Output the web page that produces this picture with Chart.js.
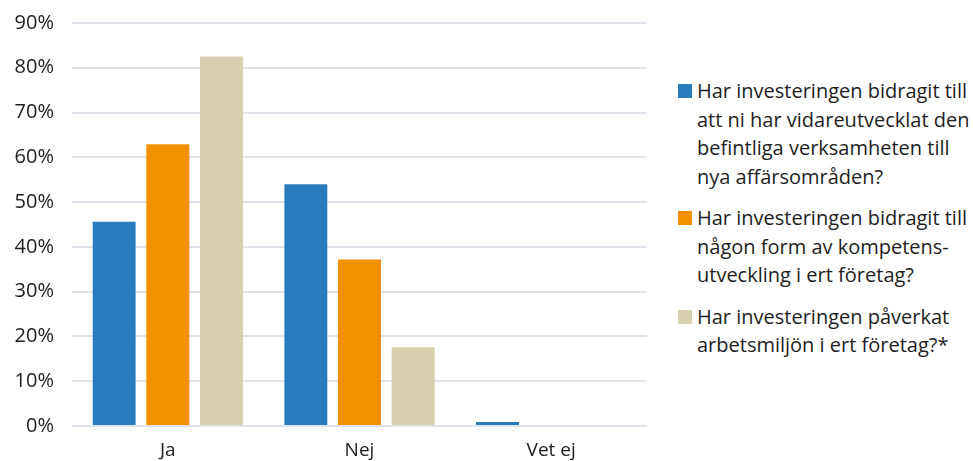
<!DOCTYPE html>
<html lang="sv">
<head>
<meta charset="UTF-8">
<title>Investeringens effekter</title>
<script src="https://cdn.jsdelivr.net/npm/chart.js@4.4.1/dist/chart.umd.min.js"></script>
<style>
    body {
        margin: 0;
        background: #fff;
        font-family: "Open Sans", sans-serif;
    }
    .wrap {
        position: relative;
        width: 973px;
        height: 461px;
    }
    .chart-box {
        position: absolute;
        left: 0;
        top: 0;
        width: 660px;
        height: 461px;
    }
    #legend {
        position: absolute;
        left: 678px;
        top: 77px;
        width: 295px;
        font-size: 20px;
        line-height: 28.5px;
        color: #1e1e1e;
        white-space: nowrap;
    }
    .item {
        position: relative;
        padding-left: 19px;
        margin-bottom: 13px;
    }
    .swatch {
        position: absolute;
        left: 0;
        top: 7px;
        width: 14px;
        height: 14px;
    }
</style>
</head>
<body>
<div class="wrap">
    <div class="chart-box"><canvas id="chart"></canvas></div>
    <div id="legend"></div>
</div>

<script>
    // answer categories
    const categories = ['Ja', 'Nej', 'Vet ej'];

    // share of respondents (%) per question
    const utvecklatVerksamhet = [45.6, 54.0, 0.9];
    const kompetensutveckling = [62.9, 37.2, 0];
    const arbetsmiljo = [82.5, 17.6, 0];

    const yTicks = [0, 10, 20, 30, 40, 50, 60, 70, 80, 90];

    // legend text, one entry per line
    const seriesLabels = [
        ['Har investeringen bidragit till', 'att ni har vidareutvecklat den', 'befintliga verksamheten till', 'nya affärsområden?'],
        ['Har investeringen bidragit till', 'någon form av kompetens-', 'utveckling i ert företag?'],
        ['Har investeringen påverkat', 'arbetsmiljön i ert företag?*']
    ];
    const seriesColors = ['#287cbd', '#f29000', '#d6cfb0'];
    const seriesData = [utvecklatVerksamhet, kompetensutveckling, arbetsmiljo];

    const datasets = seriesData.map((d, i) => ({
        label: seriesLabels[i].join(' '),
        data: d,
        backgroundColor: seriesColors[i],
        borderWidth: 0,
        barPercentage: 0.8,
        categoryPercentage: 0.84
    }));

    const chart = new Chart(document.getElementById('chart'), {
        type: 'bar',
        data: { labels: categories, datasets: datasets },
        options: {
            responsive: true,
            maintainAspectRatio: false,
            animation: false,
            layout: { padding: { top: 23, right: 13, left: 0, bottom: 0 } },
            plugins: {
                legend: { display: false },
                tooltip: { enabled: false }
            },
            scales: {
                x: {
                    grid: { display: false },
                    border: { display: false },
                    ticks: {
                        color: '#1e1e1e',
                        font: { family: 'Open Sans', size: 19 },
                        padding: 5
                    },
                    afterFit: s => { s.height = 35; }
                },
                y: {
                    min: 0,
                    max: 90,
                    afterBuildTicks: s => { s.ticks = yTicks.map(v => ({ value: v })); },
                    grid: { color: '#dfe3ea', lineWidth: 2, drawTicks: false },
                    border: { display: false },
                    ticks: {
                        color: '#1e1e1e',
                        font: { family: 'Open Sans', size: 20 },
                        padding: 18,
                        callback: v => v + '%'
                    },
                    afterFit: s => {
                        s.width = 72;
                        s.paddingTop = 0;
                        s.paddingBottom = 0;
                    }
                }
            }
        }
    });

    // legend with wrapped lines
    const legend = document.getElementById('legend');
    seriesLabels.forEach((lines, i) => {
        const item = document.createElement('div');
        item.className = 'item';
        const sw = document.createElement('span');
        sw.className = 'swatch';
        sw.style.background = seriesColors[i];
        item.appendChild(sw);
        lines.forEach(line => {
            const row = document.createElement('div');
            row.textContent = line;
            item.appendChild(row);
        });
        legend.appendChild(item);
    });
</script>
</body>
</html>
